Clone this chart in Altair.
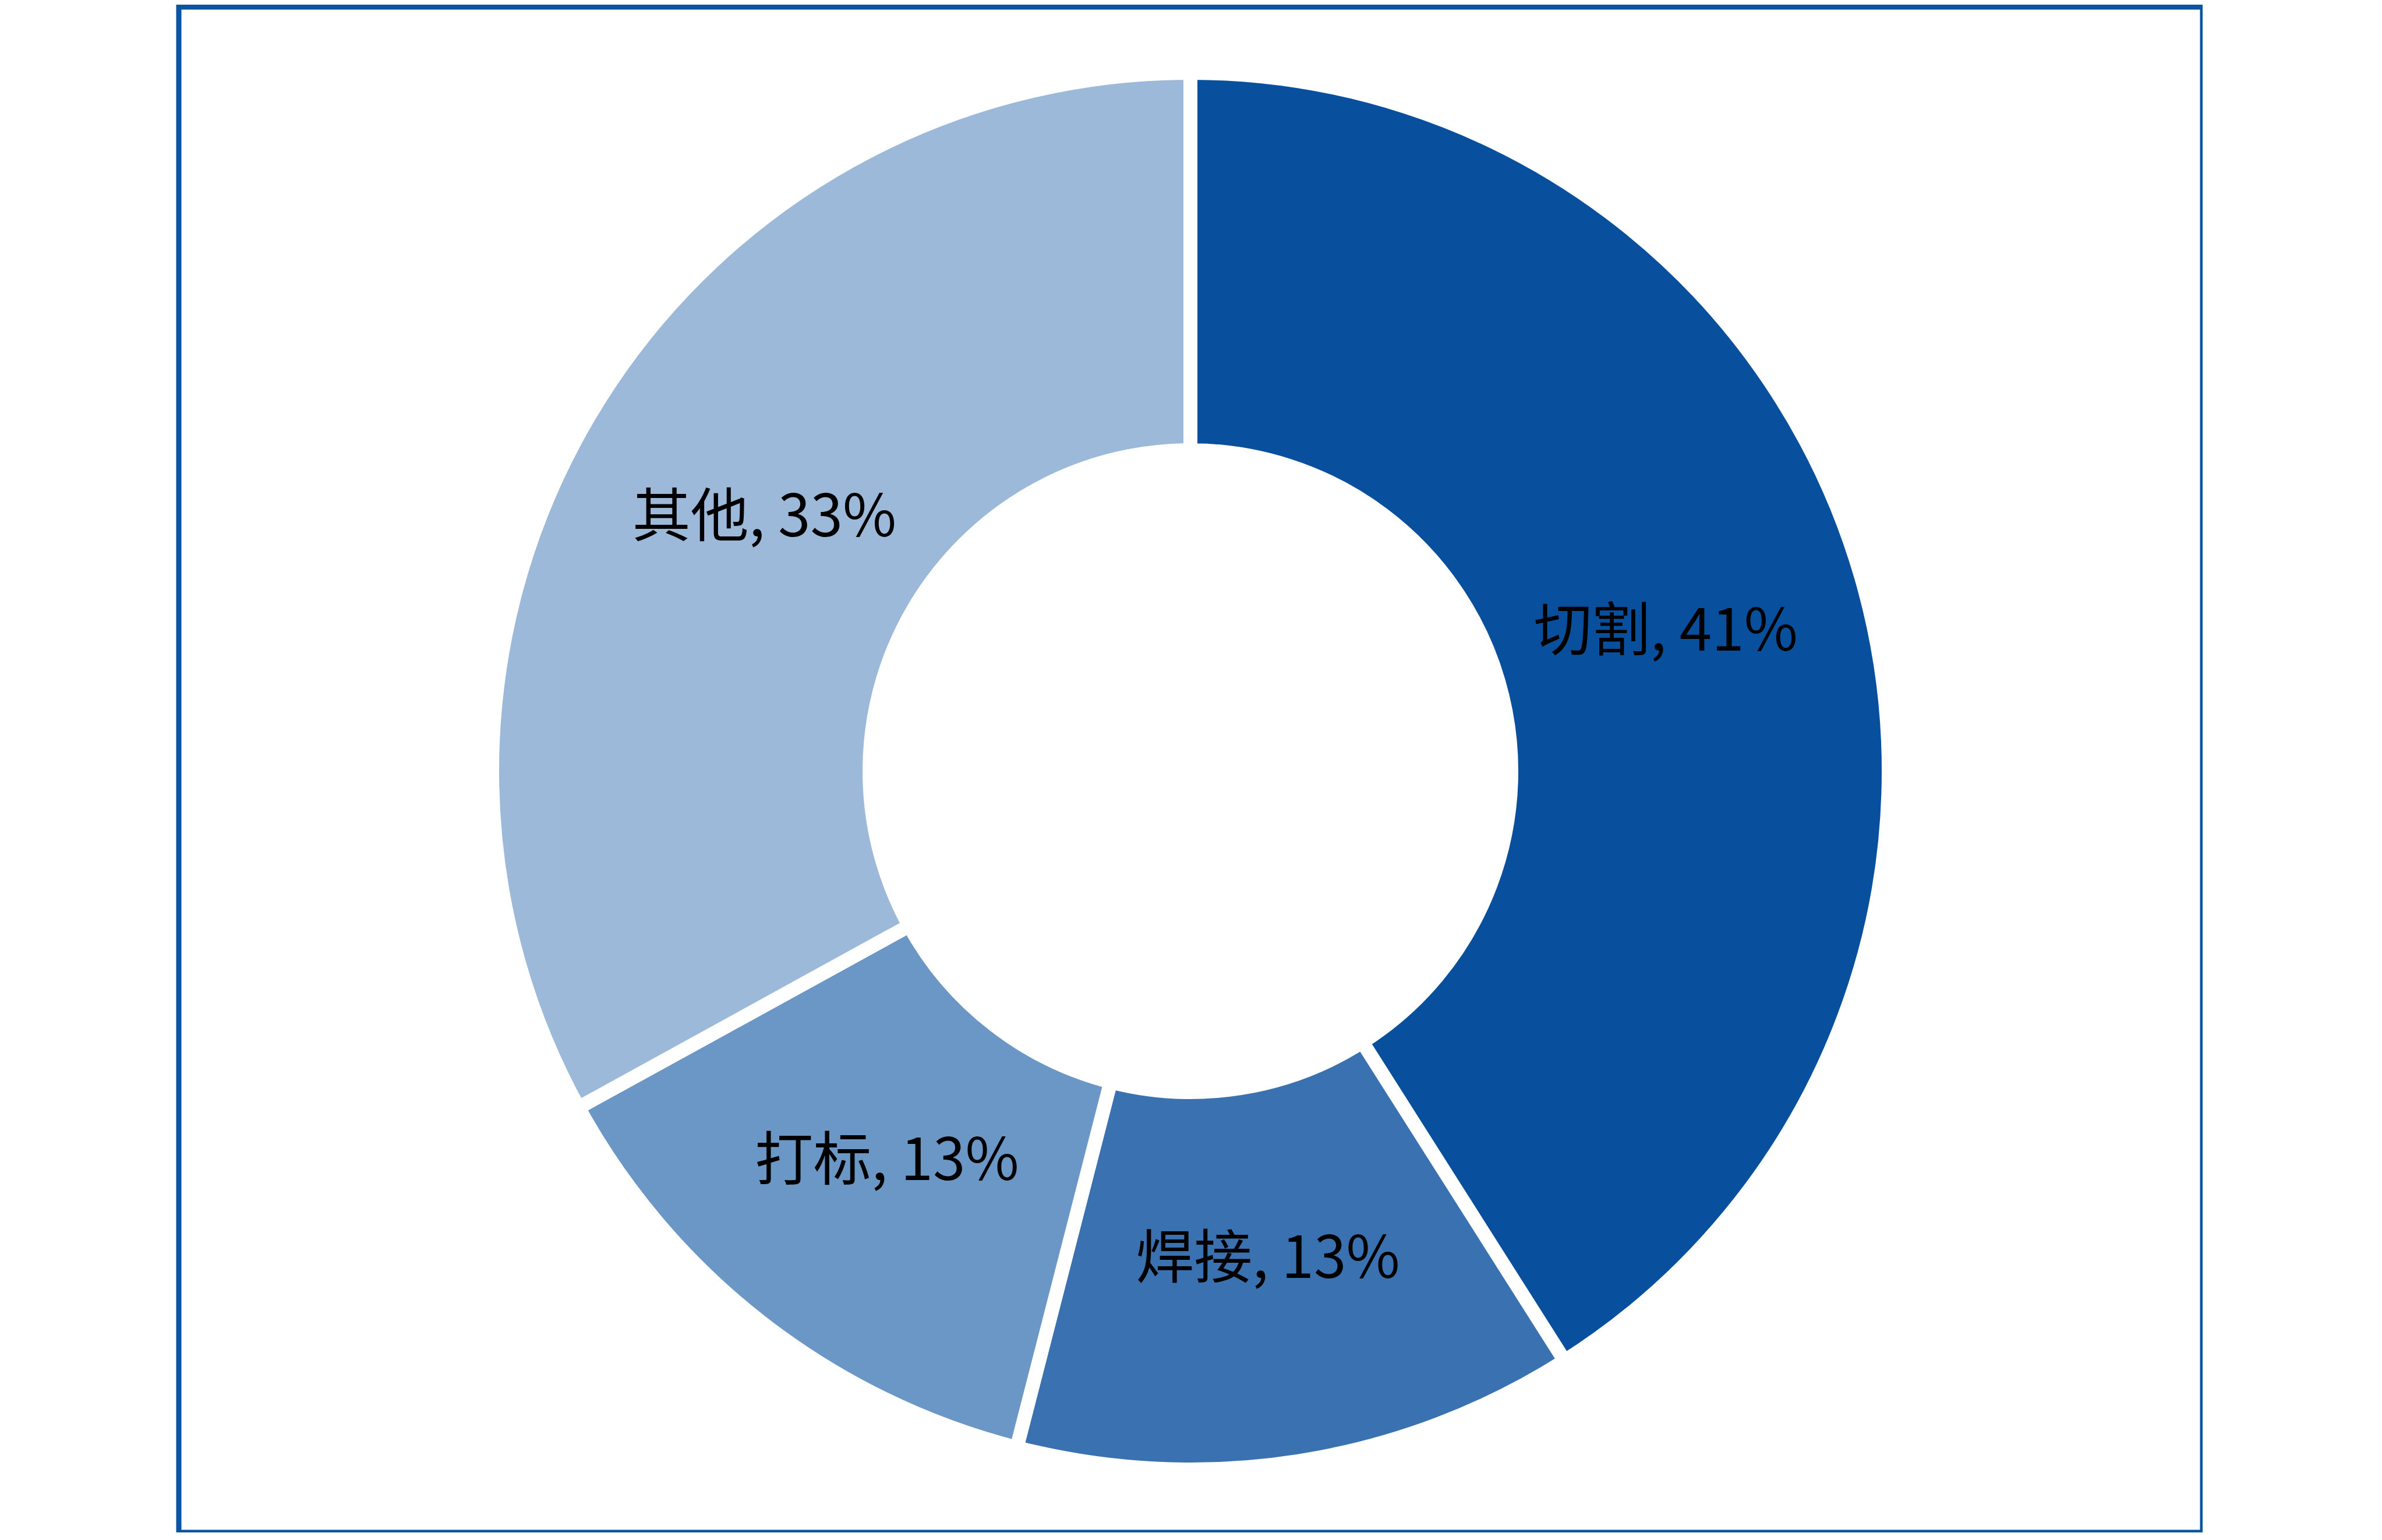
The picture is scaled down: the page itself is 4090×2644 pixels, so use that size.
import altair as alt
import pandas as pd

categories = ["切割", "焊接", "打标", "其他"]
values = [41, 13, 13, 33]
colors = ["#08509E", "#3A72B1", "#6B97C7", "#9DB9DA"]

df = pd.DataFrame({
    "cat": categories,
    "val": values,
    "idx": list(range(len(categories))),
    "label": [f"{c}, {v}%" for c, v in zip(categories, values)],
})

base = alt.Chart(df).encode(
    theta=alt.Theta("val:Q", stack=True),
    order=alt.Order("idx:Q"),
    x=alt.value(1737),
    y=alt.value(1312),
)

arcs = base.mark_arc(innerRadius=551, outerRadius=1199, stroke="white", strokeWidth=24).encode(
    color=alt.Color("cat:N", scale=alt.Scale(domain=categories, range=colors), legend=None)
)

labels = base.mark_text(radius=850, fontSize=100, font="Noto Sans CJK SC", color="black").encode(
    text="label:N"
)

chart = alt.layer(arcs, labels).properties(
    width=3475,
    height=2619,
    padding={"left": 299, "top": 4, "right": 0, "bottom": 0},
    background="white",
).configure_view(stroke="#0B54A2", strokeWidth=9)

chart.save("out.html", embed_options={"renderer": "svg", "actions": False})
